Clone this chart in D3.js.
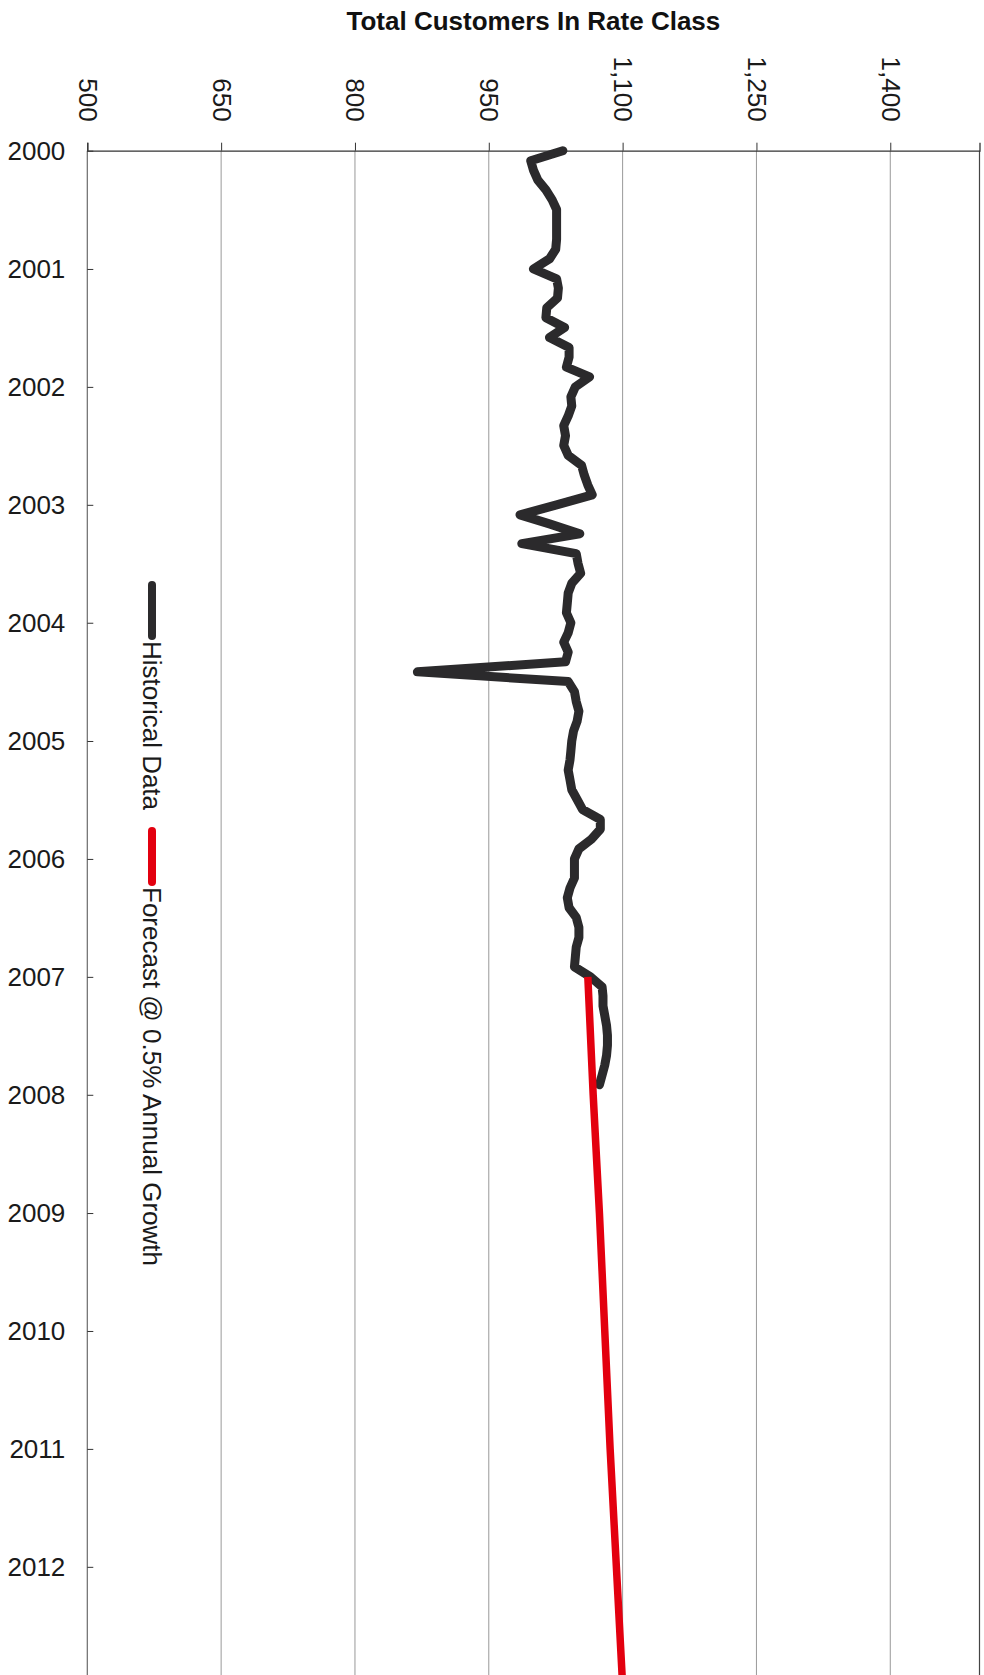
<!DOCTYPE html>
<html>
<head>
<meta charset="utf-8">
<script src="https://cdn.jsdelivr.net/npm/d3@7"></script>
<style>
    body { margin: 0; background: #fff; }
    svg { display: block; font-family: "Liberation Sans", Arial, sans-serif; }
</style>
</head>
<body>
<div id="chart"></div>
<script>
// Monthly customer counts, Jan 2000 .. Dec 2007
const historical = [
    1033, 997, 1000, 1005, 1014, 1021, 1026, 1026, 1026, 1026, 1025, 1018,
    1000, 1026, 1028, 1027, 1015, 1014, 1035, 1018, 1040, 1040, 1037, 1063,
    1047, 1042, 1043, 1039, 1034, 1036, 1034, 1039, 1054, 1057, 1061, 1066,
    1026, 985, 1018, 1052, 987, 1048, 1050, 1053, 1043, 1039, 1038, 1037,
    1042, 1039, 1034, 1039, 1036, 870, 1039, 1046, 1048, 1051, 1049, 1045,
    1043, 1042, 1041, 1039, 1041, 1043, 1049, 1055, 1075, 1075, 1065, 1051,
    1046, 1046, 1046, 1041, 1038, 1040, 1048, 1051, 1051, 1048, 1047, 1046,
    1064, 1077, 1078, 1078, 1080, 1082, 1083, 1083, 1082, 1080, 1077, 1074
];

// Forecast @ 0.5%, one value per January 2007 .. 2013
const forecastYears = [2007, 2008, 2009, 2010, 2011, 2012, 2013];
const forecast = [1061, 1067, 1074, 1080, 1086, 1093, 1100];

const customerTicks = [500, 650, 800, 950, 1100, 1250, 1400];
const yearTicks = d3.range(2000, 2013);

const width = 984, height = 1675;
const plotTop = 150.7, plotLeft = 87.3, plotRight = 979.5;

const svg = d3.select("#chart").append("svg")
    .attr("width", width)
    .attr("height", height);

svg.append("rect").attr("width", width).attr("height", height).attr("fill", "#fff");

// customers run across, time runs down
const x = d3.scaleLinear().domain([500, 1500]).range([plotLeft, plotRight]);
const y = d3.scaleTime()
    .domain([new Date(2000, 0, 1), new Date(2013, 0, 1)])
    .range([plotTop, plotTop + 13 * 118.03]);

const histData = historical.map((v, i) => ({ date: new Date(2000, i, 1), value: v }));
const foreData = forecastYears.map((yr, i) => ({ date: new Date(yr, 0, 1), value: forecast[i] }));

// gridlines
svg.append("g")
    .selectAll("line")
    .data(customerTicks.slice(1))
    .enter().append("line")
    .attr("x1", d => x(d)).attr("x2", d => x(d))
    .attr("y1", plotTop).attr("y2", height)
    .attr("stroke", "#999")
    .attr("stroke-width", 1);

// plot border
svg.append("line")
    .attr("x1", plotLeft).attr("x2", plotLeft).attr("y1", plotTop).attr("y2", height)
    .attr("stroke", "#6a6a6a").attr("stroke-width", 1.2);
svg.append("line")
    .attr("x1", plotRight).attr("x2", plotRight).attr("y1", plotTop).attr("y2", height)
    .attr("stroke", "#444").attr("stroke-width", 1.2);

// top axis with rotated labels
const xAxis = svg.append("g")
    .attr("transform", `translate(0,${plotTop})`)
    .call(d3.axisTop(x).tickValues(customerTicks).tickSize(8).tickFormat(d3.format(",")));
xAxis.select(".domain").attr("stroke", "#333").attr("stroke-width", 1.3);
xAxis.selectAll(".tick line").attr("stroke", "#333");
xAxis.selectAll(".tick text")
    .attr("fill", "#1a1a1a")
    .attr("font-size", 26)
    .attr("text-anchor", "end")
    .attr("x", 0)
    .attr("y", 0)
    .attr("dy", "0.35em")
    .attr("transform", "translate(0,-29) rotate(90)");

// left axis, years
const yAxis = svg.append("g")
    .attr("transform", `translate(${plotLeft},0)`)
    .call(d3.axisLeft(y)
        .tickValues(yearTicks.map(yr => new Date(yr, 0, 1)))
        .tickSize(-6)
        .tickFormat(d3.timeFormat("%Y")));
yAxis.select(".domain").remove();
yAxis.selectAll(".tick line").attr("stroke", "#333");
yAxis.selectAll(".tick text")
    .attr("fill", "#1a1a1a")
    .attr("font-size", 26)
    .attr("x", -22);

// title
svg.append("text")
    .attr("x", (plotLeft + plotRight) / 2)
    .attr("y", 30)
    .attr("text-anchor", "middle")
    .attr("font-size", 26)
    .attr("font-weight", "bold")
    .attr("fill", "#111")
    .text("Total Customers In Rate Class");

const line = d3.line()
    .x(d => x(d.value))
    .y(d => y(d.date));

svg.append("path")
    .datum(histData)
    .attr("fill", "none")
    .attr("stroke", "#2b2a2c")
    .attr("stroke-width", 9)
    .attr("stroke-linejoin", "round")
    .attr("stroke-linecap", "round")
    .attr("d", line);

svg.append("path")
    .datum(foreData)
    .attr("fill", "none")
    .attr("stroke", "#e3000f")
    .attr("stroke-width", 7.5)
    .attr("d", line);

// legend, rotated like the rest of the page
const legend = [
    { label: "Historical Data", color: "#2b2a2c", y0: 582 },
    { label: "Forecast @ 0.5% Annual Growth", color: "#e3000f", y0: 828 }
];
const lg = svg.append("g").selectAll("g")
    .data(legend)
    .enter().append("g")
    .attr("transform", d => `translate(152,${d.y0})`);
lg.append("line")
    .attr("x1", 0).attr("x2", 0)
    .attr("y1", 3).attr("y2", 54)
    .attr("stroke", d => d.color)
    .attr("stroke-width", 8)
    .attr("stroke-linecap", "round");
lg.append("text")
    .attr("transform", "translate(0,59) rotate(90)")
    .attr("dy", "0.35em")
    .attr("font-size", 26)
    .attr("fill", "#1a1a1a")
    .text(d => d.label);
</script>
</body>
</html>
